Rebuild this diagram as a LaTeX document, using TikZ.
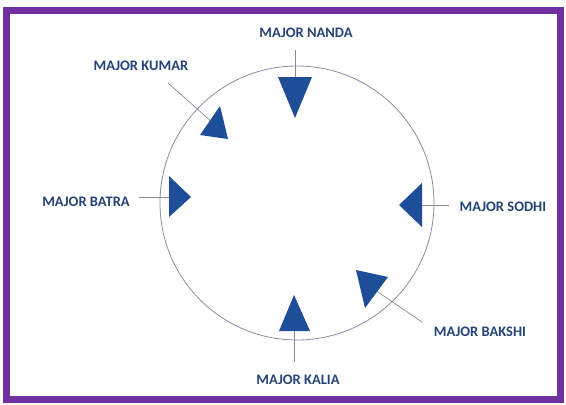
\documentclass[tikz,border=0pt]{standalone}
\usepackage{fontspec}
\setmainfont{Carlito}
\begin{document}
\begin{tikzpicture}[x=1pt,y=-1pt,
  lbl/.style={font=\bfseries\fontsize{14.5}{15}\selectfont, text=labelblue, inner sep=0pt},
  tri/.style={fill=triblue, draw=none},
  conn/.style={draw=linegray, line width=0.7pt},
]
\definecolor{labelblue}{HTML}{254377}
\definecolor{triblue}{HTML}{1F4E99}
\definecolor{linegray}{HTML}{8A8A95}
\definecolor{circgray}{HTML}{8C8CA8}
\definecolor{borderpurple}{HTML}{7030A0}
\useasboundingbox (0,0) rectangle (566,405);
\fill[white] (0,0) rectangle (566,405);
\draw[borderpurple, line width=7pt] (6.5,10.5) rectangle (560,399);
% circle
\node[circle, draw=circgray, line width=0.8pt, minimum size=274pt, inner sep=0pt] (ring) at (297,203) {};
% labels
\node[lbl] (nanda) at (306,33) {MAJOR NANDA};
\node[lbl] (kumar) at (141,66) {MAJOR KUMAR};
\node[lbl] (batra) at (86,202) {MAJOR BATRA};
\node[lbl] (sodhi) at (503,207) {MAJOR SODHI};
\node[lbl] (bakshi) at (480,332) {MAJOR BAKSHI};
\node[lbl] (kalia) at (298,380) {MAJOR KALIA};
% connector ends
\coordinate (n1) at (295,50); \coordinate (n2) at (295,78);
\coordinate (k1) at (168,83); \coordinate (k2) at (213,123);
\coordinate (b1) at (139,197); \coordinate (b2) at (170,197);
\coordinate (s1) at (449,205); \coordinate (s2) at (421,205);
\coordinate (bk1) at (422,322); \coordinate (bk2) at (375,290);
\coordinate (ka1) at (294,362); \coordinate (ka2) at (294,330);
\draw[conn] (n1) -- (n2);
\draw[conn] (k1) -- (k2);
\draw[conn] (b1) -- (b2);
\draw[conn] (s1) -- (s2);
\draw[conn] (bk1) -- (bk2);
\draw[conn] (ka1) -- (ka2);
% triangles
\fill[tri] (278,77) -- (312,77) -- (295,118) -- cycle;
\fill[tri] (220,106) -- (200,135) -- (228,139) -- cycle;
\fill[tri] (169,176) -- (169,217) -- (191,197) -- cycle;
\fill[tri] (422,183) -- (422,227) -- (399,205) -- cycle;
\fill[tri] (356,270) -- (388,277) -- (365,308) -- cycle;
\fill[tri] (294,295) -- (279,331) -- (310,331) -- cycle;
\end{tikzpicture}
\end{document}
